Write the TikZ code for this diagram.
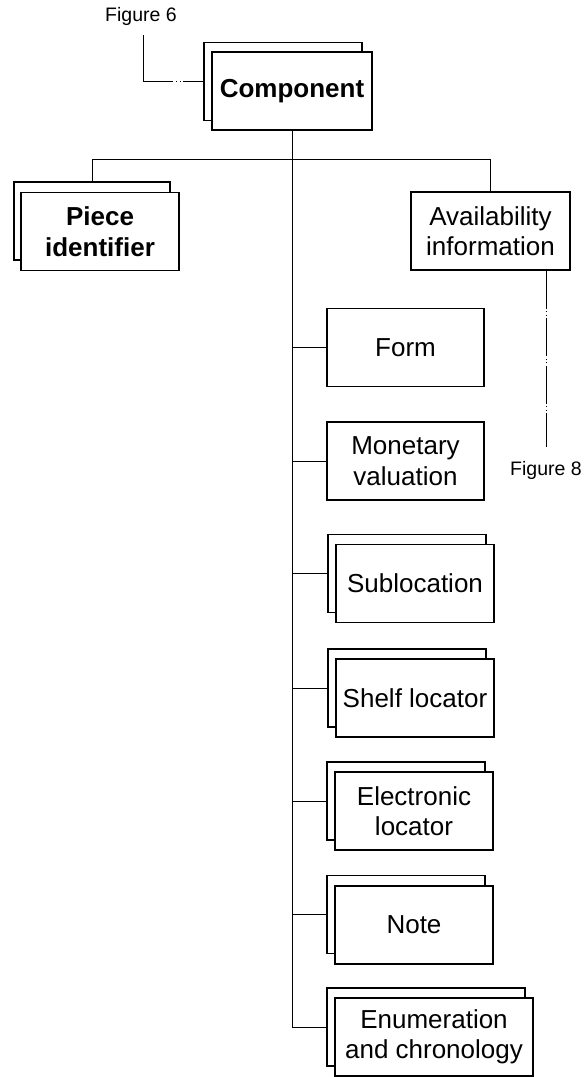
\documentclass[tikz,border=0pt]{standalone}
\usepackage{fontspec}
\setmainfont{Liberation Sans}
\begin{document}
\begin{tikzpicture}[x=1pt,y=-1pt,
  box/.style={draw, line width=1.8pt, fill=white, align=center, inner sep=2pt,
    minimum width=158pt, minimum height=78pt, font=\fontsize{26}{30.5}\selectfont},
  wide/.style={minimum width=198pt},
  heavy/.style={font=\fontsize{26}{30.5}\selectfont\bfseries},
  link/.style={line width=1pt},
  ref/.style={line width=1pt, dash pattern=on 38pt off 2.5pt on 1pt off 2.5pt on 1pt off 2.5pt},
  figlabel/.style={inner sep=0pt, font=\fontsize{19.5}{23}\selectfont}]
\useasboundingbox (0,0) rectangle (587,1077);

% Root element with its cross-reference
\node[box] (cmpB) at (283,81.5) {};
\node[box, minimum width=160pt, heavy] (cmp) at (292,91) {Component};
\node[figlabel] (fig6) at (141,16) {Figure 6};
\coordinate (fig6end) at (143,35);
\draw[line width=1pt, dash pattern=on 20pt off 2.5pt on 1pt off 3pt on 1pt off 3pt on 100pt]
  (cmpB.west) -| (fig6end);

% Top-level children
\node[box, minimum width=156pt] (pieceB) at (92,221) {};
\node[box, heavy] (piece) at (100,231.5) {Piece\\identifier};
\node[box, minimum width=159pt] (avail) at (490.5,231) {Availability\\information};
\node[figlabel] (fig8) at (546,470) {Figure 8};
\coordinate (fig8end) at (546,447);
\draw[ref] (fig8end |- avail.south) -- (fig8end);

\draw[link] (pieceB.north) -- ++(0,-22) -| (avail.north);

% Elements hanging from the vertical spine
\node[box, minimum width=157pt] (form) at (405.5,347.5) {Form};
\node[box, minimum width=157pt] (money) at (405.5,461) {Monetary\\valuation};

\node[box] (subB) at (407,573.5) {};
\node[box] (sub) at (415,583.5) {Sublocation};

\node[box] (shelfB) at (407,688) {};
\node[box] (shelf) at (415,698) {Shelf locator};

\node[box] (elecB) at (406,801) {};
\node[box] (elec) at (414,811) {Electronic\\locator};

\node[box] (noteB) at (406,914.5) {};
\node[box] (note) at (414,925) {Note};

\node[box, wide] (enumB) at (426,1027) {};
\node[box, wide] (enum) at (434,1037) {Enumeration\\and chronology};

\draw[link] (cmp.south) -- (cmp.south |- enumB.west) -- (enumB.west);
\foreach \n in {form, money, subB, shelfB, elecB, noteB}
  \draw[link] (cmp.south |- \n.west) -- (\n.west);
\end{tikzpicture}
\end{document}
